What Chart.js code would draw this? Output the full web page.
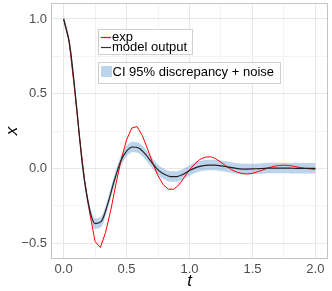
<!DOCTYPE html>
<html><head><meta charset="utf-8">
<script src="https://cdn.jsdelivr.net/npm/chart.js@4"></script>
<style>html,body{margin:0;padding:0;background:#fff}#wrap{width:332px;height:291px;position:relative}</style>
</head><body><div id="wrap"><canvas id="c" width="332" height="291"></canvas></div>
<script>
// ---- data ----
const tExp = [0, 0.042, 0.083, 0.125, 0.167, 0.208, 0.25, 0.292, 0.333, 0.375, 0.417, 0.458, 0.5, 0.542, 0.583, 0.625, 0.667, 0.708, 0.75, 0.792, 0.833, 0.875, 0.917, 0.958, 1.0, 1.042, 1.083, 1.125, 1.167, 1.208, 1.25, 1.292, 1.333, 1.375, 1.417, 1.458, 1.5, 1.542, 1.583, 1.625, 1.667, 1.708, 1.75, 1.792, 1.833, 1.875, 1.917, 1.958, 2.0];
const expValues = [1.0, 0.86, 0.56, 0.22, -0.08, -0.30, -0.49, -0.53, -0.43, -0.28, -0.10, 0.06, 0.19, 0.27, 0.28, 0.22, 0.13, 0.035, -0.05, -0.11, -0.14, -0.14, -0.11, -0.06, -0.01, 0.03, 0.06, 0.075, 0.078, 0.065, 0.04, 0.015, -0.008, -0.025, -0.035, -0.038, -0.033, -0.022, -0.01, 0.003, 0.013, 0.019, 0.021, 0.019, 0.013, 0.006, 0.0, -0.004, -0.007];
const tModel = [0, 0.05, 0.1, 0.15, 0.2, 0.25, 0.3, 0.35, 0.4, 0.45, 0.5, 0.55, 0.6, 0.65, 0.7, 0.75, 0.8, 0.85, 0.9, 0.95, 1.0, 1.05, 1.1, 1.15, 1.2, 1.25, 1.3, 1.35, 1.4, 1.45, 1.5, 1.55, 1.6, 1.65, 1.7, 1.75, 1.8, 1.85, 1.9, 1.95, 2.0];
const modelValues = [1.0, 0.82, 0.44, 0.02, -0.25, -0.37, -0.355, -0.24, -0.09, 0.04, 0.115, 0.143, 0.135, 0.095, 0.04, -0.01, -0.04, -0.055, -0.055, -0.04, -0.015, 0.005, 0.017, 0.022, 0.022, 0.017, 0.01, 0.003, -0.003, -0.005, -0.004, -0.002, 0.0, 0.002, 0.002, 0.002, 0.001, 0.0, 0.0, 0.0, 0.0];
const ciLower = [0.97, 0.79, 0.41, -0.015, -0.285, -0.405, -0.39, -0.275, -0.125, 0.005, 0.08, 0.108, 0.1, 0.06, 0.005, -0.045, -0.075, -0.09, -0.09, -0.075, -0.05, -0.03, -0.018, -0.013, -0.013, -0.018, -0.025, -0.032, -0.038, -0.04, -0.039, -0.037, -0.035, -0.033, -0.033, -0.033, -0.034, -0.035, -0.035, -0.035, -0.035];
const ciUpper = [1.03, 0.85, 0.47, 0.055, -0.215, -0.335, -0.32, -0.205, -0.055, 0.075, 0.15, 0.178, 0.17, 0.13, 0.075, 0.025, -0.005, -0.02, -0.02, -0.005, 0.02, 0.04, 0.052, 0.057, 0.057, 0.052, 0.045, 0.038, 0.032, 0.03, 0.031, 0.033, 0.035, 0.037, 0.037, 0.037, 0.036, 0.035, 0.035, 0.035, 0.035];
const xMajor = [0, 0.5, 1.0, 1.5, 2.0];
const xMinor = [0.25, 0.75, 1.25, 1.75];
const yMajor = [-0.5, 0, 0.5, 1.0];
const yMinor = [-0.25, 0.25, 0.75];
const seriesNames = ['exp', 'model output', 'CI 95% discrepancy + noise'];
const axisTitles = {x: 't', y: 'x'};

const pts = (ts, vs) => ts.map((t, i) => ({x: t, y: vs[i]}));
const FONT = '"Liberation Sans", Arial, sans-serif';
const fmt = v => (v < 0 ? '\u2212' : '') + Math.abs(v).toFixed(1);
const isIn = (arr, v) => arr.some(a => Math.abs(a - v) < 1e-9);

const deco = {
  id: 'deco',
  afterDraw(chart) {
    const {ctx, chartArea: a} = chart;
    ctx.save();
    // panel border
    ctx.strokeStyle = '#c4c4c4';
    ctx.lineWidth = 1;
    ctx.strokeRect(a.left + 0.5, a.top + 0.5, a.right - a.left - 1, a.bottom - a.top - 1);
    // axis titles
    ctx.fillStyle = '#000';
    ctx.font = 'italic 17px ' + FONT;
    ctx.textAlign = 'center';
    ctx.textBaseline = 'middle';
    ctx.fillText(axisTitles.x, (a.left + a.right) / 2, 281);
    ctx.save();
    ctx.translate(12, (a.top + a.bottom) / 2);
    ctx.rotate(-Math.PI / 2);
    ctx.fillText(axisTitles.y, 0, 0);
    ctx.restore();
    // legend box 1
    ctx.fillStyle = '#fff';
    ctx.strokeStyle = '#cfcfcf';
    ctx.fillRect(98, 29, 95, 26);
    ctx.strokeRect(98.5, 29.5, 94, 25);
    ctx.lineWidth = 1.2;
    ctx.strokeStyle = '#ff0000';
    ctx.beginPath(); ctx.moveTo(101, 37.5); ctx.lineTo(111, 37.5); ctx.stroke();
    ctx.strokeStyle = '#333';
    ctx.beginPath(); ctx.moveTo(101, 47.5); ctx.lineTo(111, 47.5); ctx.stroke();
    ctx.fillStyle = '#000';
    ctx.font = '13px ' + FONT;
    ctx.textAlign = 'left';
    ctx.textBaseline = 'middle';
    ctx.fillText(seriesNames[0], 112, 37);
    ctx.fillText(seriesNames[1], 112, 47.5);
    // legend box 2
    ctx.lineWidth = 1;
    ctx.fillStyle = '#fff';
    ctx.strokeStyle = '#cfcfcf';
    ctx.fillRect(98, 62, 183, 22);
    ctx.strokeRect(98.5, 62.5, 182, 21);
    ctx.fillStyle = 'rgba(120,170,215,0.5)';
    ctx.fillRect(101, 66, 11, 11);
    ctx.fillStyle = '#000';
    ctx.fillText(seriesNames[2], 112.5, 72);
    ctx.restore();
  }
};

new Chart(document.getElementById('c'), {
  type: 'line',
  data: {
    datasets: [
      {label: seriesNames[1], data: pts(tModel, modelValues), borderColor: '#222', borderWidth: 1.2, pointRadius: 0, cubicInterpolationMode: 'monotone', fill: false, order: 0},
      {label: seriesNames[0], data: pts(tExp, expValues), borderColor: '#ff0000', borderWidth: 1, pointRadius: 0, tension: 0, fill: false, order: 1},
      {label: 'ciUpper', data: pts(tModel, ciUpper), borderWidth: 0, borderColor: 'rgba(0,0,0,0)', pointRadius: 0, cubicInterpolationMode: 'monotone', fill: {target: 3}, backgroundColor: 'rgba(120,170,215,0.5)', order: 2},
      {label: 'ciLower', data: pts(tModel, ciLower), borderWidth: 0, borderColor: 'rgba(0,0,0,0)', pointRadius: 0, cubicInterpolationMode: 'monotone', fill: false, order: 3}
    ]
  },
  options: {
    responsive: false,
    devicePixelRatio: 1,
    animation: false,
    layout: {autoPadding: false, padding: {top: 3, right: 4, left: 0, bottom: 0}},
    plugins: {legend: {display: false}, tooltip: {enabled: false}},
    scales: {
      x: {
        type: 'linear', min: -0.1, max: 2.1,
        afterBuildTicks: s => { s.ticks = [...xMajor, ...xMinor].sort((a, b) => a - b).map(v => ({value: v})); },
        afterFit: s => { s.height = 32; s.paddingLeft = 0; s.paddingRight = 0; },
        ticks: {autoSkip: false, maxRotation: 0, padding: 3, color: '#4d4d4d', font: {family: FONT, size: 13},
          callback: v => isIn(xMajor, v) ? fmt(v) : ''},
        grid: {drawTicks: false, color: c => isIn(xMajor, c.tick.value) ? '#e6e6e6' : '#f3f3f3', lineWidth: 1},
        border: {display: false}
      },
      y: {
        type: 'linear', min: -0.607, max: 1.107,
        afterBuildTicks: s => { s.ticks = [...yMajor, ...yMinor].sort((a, b) => a - b).map(v => ({value: v})); },
        afterFit: s => { s.width = 51; s.paddingTop = 0; s.paddingBottom = 0; },
        ticks: {autoSkip: false, padding: 4, color: '#4d4d4d', font: {family: FONT, size: 13},
          callback: v => isIn(yMajor, v) ? fmt(v) : ''},
        grid: {drawTicks: false, color: c => isIn(yMajor, c.tick.value) ? '#e6e6e6' : '#f3f3f3', lineWidth: 1},
        border: {display: false}
      }
    }
  },
  plugins: [deco]
});
</script>
</body></html>
